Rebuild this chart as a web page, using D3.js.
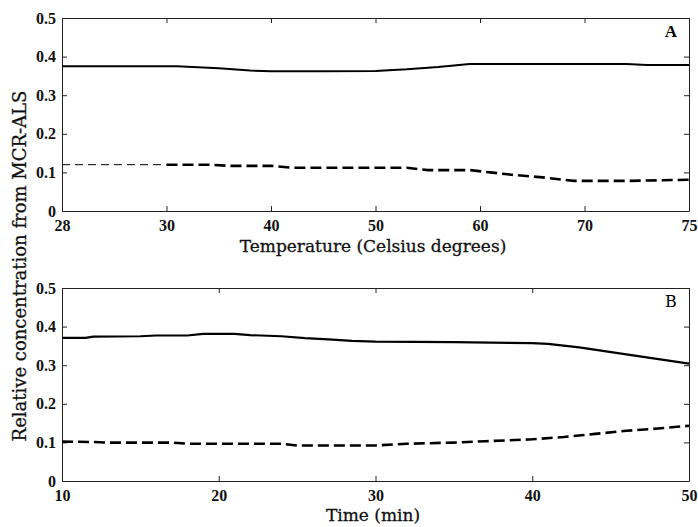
<!DOCTYPE html>
<html>
<head>
<meta charset="utf-8">
<script src="https://cdn.jsdelivr.net/npm/d3@7"></script>
<style>
  html, body { margin: 0; padding: 0; background: #fff; }
  svg { display: block; }
  .tick text { font-family: "Liberation Serif", "Times New Roman", serif; font-weight: bold; font-size: 16px; fill: #111; }
  .domain, .tick line { stroke: #222; stroke-width: 1; }
  .title { font-family: "DejaVu Serif", serif; font-size: 17px; fill: #111; stroke: #111; stroke-width: 0.3; }
</style>
</head>
<body>
<svg id="chart" width="698" height="527"></svg>
<script>
// Panel A: relative concentration vs temperature (°C)
const tempTicks = [28, 30, 40, 50, 60, 70, 75];
const tempSolidX = [28, 31, 35, 38, 40, 45, 50, 53, 56, 59, 65, 72, 73, 75];
const tempSolidY = [0.375, 0.375, 0.370, 0.364, 0.362, 0.362, 0.363, 0.367, 0.373, 0.381, 0.381, 0.381, 0.378, 0.378];
const tempDashX = [28, 30, 34, 36, 40, 42, 53, 55, 59, 61, 63, 66, 69, 72, 75];
const tempDashY = [0.120, 0.120, 0.120, 0.117, 0.117, 0.112, 0.112, 0.106, 0.106, 0.100, 0.094, 0.087, 0.078, 0.078, 0.081];

// Panel B: relative concentration vs time (min)
const timeTicks = [10, 20, 30, 40, 50];
const timeSolidX = [10, 11.5, 12, 15, 16, 18, 19, 21, 22, 24, 25.5, 27, 28.5, 30, 35, 40, 41, 43, 46, 50];
const timeSolidY = [0.371, 0.371, 0.374, 0.375, 0.377, 0.377, 0.381, 0.381, 0.378, 0.375, 0.370, 0.367, 0.363, 0.361, 0.360, 0.357, 0.355, 0.346, 0.328, 0.304];
const timeDashX = [10, 12, 13, 17, 18, 24, 25, 30, 32, 35, 37, 40, 42, 44, 46, 48, 50];
const timeDashY = [0.102, 0.101, 0.0995, 0.0995, 0.0965, 0.0965, 0.092, 0.092, 0.0965, 0.0995, 0.103, 0.108, 0.114, 0.122, 0.130, 0.136, 0.143];

const concTicks = [0, 0.1, 0.2, 0.3, 0.4, 0.5];
const panelLabels = ["A", "B"];
const xTitles = ["Temperature (Celsius degrees)", "Time (min)"];
const yTitle = "Relative concentration from MCR-ALS";

const svg = d3.select("#chart");
const left = 62, right = 689;

function fmtConc(d) { return d === 0 ? "0" : d3.format(".1f")(d); }

function panel(cfg) {
  const { top, bottom, x, xTicks, label, labelBold, title, titleY } = cfg;
  const y = d3.scaleLinear().domain([0, 0.5]).range([bottom, top]);
  const g = svg.append("g");

  g.append("g").attr("transform", `translate(0,${bottom})`)
    .call(d3.axisBottom(x).tickValues(xTicks).tickSize(-5).tickSizeOuter(0).tickPadding(9).tickFormat(d3.format("d")));
  g.append("g").attr("transform", `translate(0,${top})`)
    .call(d3.axisTop(x).tickValues(xTicks).tickSize(-5).tickSizeOuter(0).tickFormat(""));
  g.append("g").attr("transform", `translate(${left},0)`)
    .call(d3.axisLeft(y).tickValues(concTicks).tickSize(-5).tickSizeOuter(0).tickPadding(6).tickFormat(fmtConc));
  g.append("g").attr("transform", `translate(${right},0)`)
    .call(d3.axisRight(y).tickValues(concTicks).tickSize(-5).tickSizeOuter(0).tickFormat(""));

  g.append("text")
    .attr("x", 671).attr("y", top + 19)
    .attr("text-anchor", "middle")
    .style("font-family", labelBold ? "'Liberation Serif', serif" : "'DejaVu Serif', serif")
    .style("font-weight", labelBold ? "bold" : "normal")
    .style("font-size", labelBold ? "17px" : "16px")
    .text(label);

  g.append("text").attr("class", "title")
    .attr("x", 373).attr("y", titleY)
    .attr("text-anchor", "middle")
    .text(title);

  return { g, y };
}

function drawLine(g, xs, ys, x, y, style) {
  const pts = xs.map((d, i) => [d, ys[i]]);
  g.append("path")
    .datum(pts)
    .attr("fill", "none")
    .attr("stroke", "#000")
    .attr("stroke-width", style.width)
    .attr("stroke-dasharray", style.dash || null)
    .attr("d", d3.line().x(d => x(d[0])).y(d => y(d[1])));
}

// Temperature axis: labelled ticks are evenly spaced
const step = (right - left) / (tempTicks.length - 1);
const xTemp = d3.scaleLinear().domain(tempTicks).range(tempTicks.map((d, i) => left + i * step));
const xTime = d3.scaleLinear().domain([10, 50]).range([left, right]);

const A = panel({ top: 18, bottom: 211, x: xTemp, xTicks: tempTicks, label: panelLabels[0], labelBold: true, title: xTitles[0], titleY: 252 });
drawLine(A.g, tempSolidX, tempSolidY, xTemp, A.y, { width: 2 });
const splitA = tempDashX.indexOf(30);
drawLine(A.g, tempDashX.slice(0, splitA + 1), tempDashY.slice(0, splitA + 1), xTemp, A.y, { width: 1, dash: "8,5" });
drawLine(A.g, tempDashX.slice(splitA), tempDashY.slice(splitA), xTemp, A.y, { width: 2.6, dash: "11,5" });

const B = panel({ top: 288, bottom: 481, x: xTime, xTicks: timeTicks, label: panelLabels[1], labelBold: false, title: xTitles[1], titleY: 521 });
drawLine(B.g, timeSolidX, timeSolidY, xTime, B.y, { width: 2.2 });
drawLine(B.g, timeDashX, timeDashY, xTime, B.y, { width: 2.6, dash: "11,5" });

svg.append("text").attr("class", "title")
  .attr("transform", "translate(26,266) rotate(-90)")
  .attr("text-anchor", "middle")
  .style("font-size", "18px")
  .text(yTitle);
</script>
</body>
</html>
